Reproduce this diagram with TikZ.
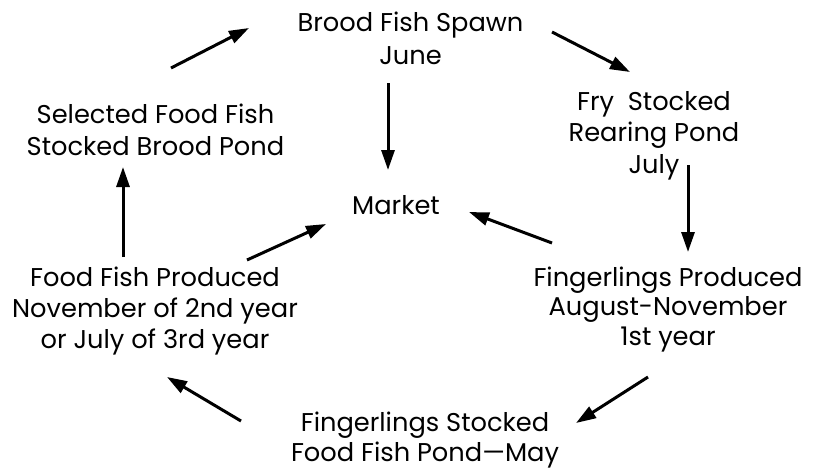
\documentclass[tikz,border=0pt]{standalone}
\usepackage{fontspec}
\setmainfont{Poppins}
\usetikzlibrary{arrows.meta}
\tikzset{
  lbl/.style={align=center, anchor=base, inner sep=0pt, font=\fontsize{25.7}{#1}\selectfont},
  lbl/.default=31.5,
  arr/.style={line width=3pt, -{Triangle[length=20pt,width=13pt]}}
}
\begin{document}
\begin{tikzpicture}[x=1pt,y=-1pt]
\fill[white] (0,0) rectangle (813,469);
\useasboundingbox (0,0) rectangle (813,469);
\node[lbl=33] (brood) at (410.5,64) {Brood Fish Spawn\\June};
\node[lbl=31.5] (fry) at (654,173) {Fry\ \ Stocked\\Rearing Pond\\July};
\node[lbl=32] (sel) at (155.5,155) {Selected Food Fish\\Stocked Brood Pond};
\node[lbl] (market) at (396,214) {Market};
\node[lbl=31] (ffp) at (155,348) {Food Fish Produced\\November of 2nd year\\or July of 3rd year};
\node[lbl=29.5] (fp) at (668,345) {Fingerlings Produced\\August-November\\1st year};
\node[lbl=30] (fs) at (425,461) {Fingerlings Stocked\\Food Fish Pond---May};
\draw[arr] ([shift={(15.5,-87)}]sel.base) -- ([shift={(-161.5,-36)}]brood.base);
\draw[arr] ([shift={(141.5,-32)}]brood.base) -- ([shift={(-24,-101)}]fry.base);
\draw[arr] ([shift={(-22.5,19)}]brood.base) -- ([shift={(-8,-44)}]market.base);
\draw[arr] ([shift={(34,-8)}]fry.base) -- ([shift={(20,-93)}]fp.base);
\draw[arr] ([shift={(-116,-102)}]fp.base) -- ([shift={(73,-2)}]market.base);
\draw[arr] ([shift={(92,-88)}]ffp.base) -- ([shift={(-70,10)}]market.base);
\draw[arr] ([shift={(-32,-91)}]ffp.base) -- ([shift={(-32.5,12)}]sel.base);
\draw[arr] ([shift={(-20,32)}]fp.base) -- ([shift={(151,-38)}]fs.base);
\draw[arr] ([shift={(-184,-40)}]fs.base) -- ([shift={(12,29)}]ffp.base);
\end{tikzpicture}
\end{document}
